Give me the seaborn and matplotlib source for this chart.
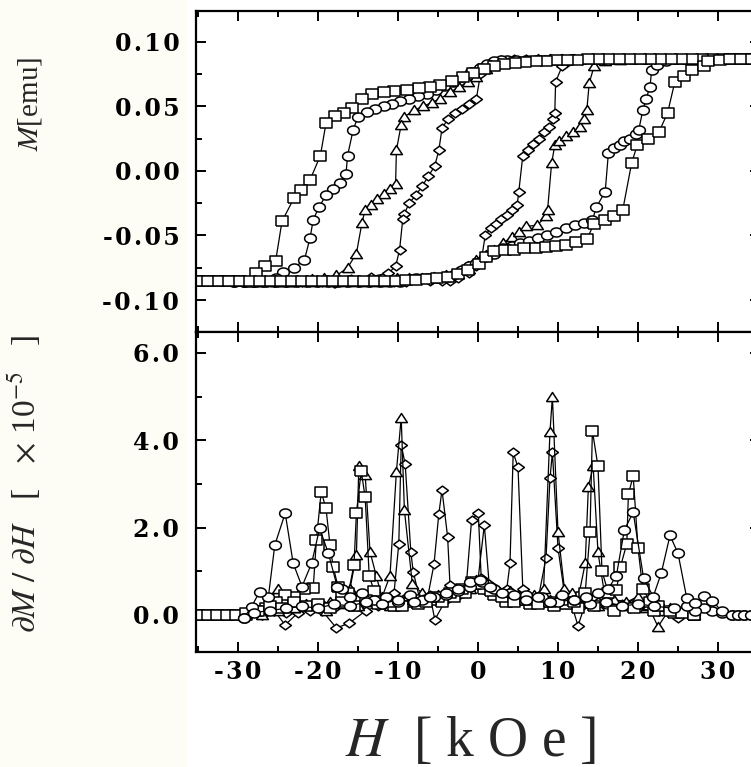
import numpy as np
import matplotlib
matplotlib.use("Agg")
import matplotlib.pyplot as plt
from matplotlib.ticker import MultipleLocator, FuncFormatter
from matplotlib.patches import Rectangle
import seaborn as sns

# ---------------- top panel: M(H) loops (descending branch, then ascending) ----------------
sq_h = [34.5, 33.2, 31.9, 30.6, 29.3, 28.0, 26.7, 25.4, 24.1, 22.8, 21.5, 20.2, 18.9, 17.6,
        16.3, 15.0, 13.7, 12.4, 11.1, 9.8, 8.5, 7.2, 5.9, 4.6, 3.3, 2.0, 0.7, -0.6, -1.9, -3.2,
        -4.7, -6.0, -7.4, -8.9, -10.5, -11.8, -13.2, -14.5, -15.7, -16.8, -17.9, -19.0, -19.7,
        -21.0, -22.1, -23.0, -24.5, -25.3, -26.6, -27.7, -28.6, -29.9, -31.2, -32.5, -33.8, -35.0,
        -35.0, -33.7, -32.4, -31.1, -29.8, -28.5, -27.2, -25.9, -24.6, -23.3, -22.0, -20.7, -19.4,
        -18.1, -16.8, -15.5, -14.2, -12.9, -11.6, -10.3, -9.0, -7.7, -6.4, -5.1, -3.8, -2.5, -1.2,
        0.1, 1.0, 2.0, 3.4, 4.5, 5.8, 7.2, 8.5, 9.8, 11.0, 12.3, 13.6, 14.5, 15.9, 17.0, 18.1,
        19.2, 19.9, 21.2, 22.6, 23.7, 24.6, 25.7, 26.8, 28.2, 28.8, 30.2, 31.5, 32.9, 34.2]
sq_m = [0.087, 0.087, 0.087, 0.087, 0.087, 0.087, 0.087, 0.087, 0.087, 0.087, 0.087, 0.087, 0.087, 0.087,
        0.087, 0.0868, 0.0866, 0.0864, 0.086, 0.0857, 0.0853, 0.085, 0.0845, 0.084, 0.083, 0.081, 0.079,
        0.076, 0.073, 0.070, 0.067, 0.065, 0.064, 0.063, 0.062, 0.061, 0.060, 0.056, 0.049, 0.045,
        0.043, 0.037, 0.012, -0.007, -0.015, -0.021, -0.039, -0.070, -0.074, -0.079, -0.086, -0.0855,
        -0.085, -0.085, -0.085, -0.085,
        -0.085, -0.085, -0.085, -0.085, -0.085, -0.085, -0.085, -0.085, -0.085, -0.085, -0.085, -0.085,
        -0.085, -0.085, -0.085, -0.085, -0.085, -0.085, -0.085, -0.085, -0.0848, -0.0845, -0.084,
        -0.083, -0.082, -0.080, -0.077, -0.072, -0.067, -0.062, -0.061, -0.061, -0.060, -0.0595,
        -0.059, -0.058, -0.057, -0.055, -0.053, -0.041, -0.038, -0.035, -0.030, 0.006, 0.020, 0.025,
        0.030, 0.045, 0.069, 0.074, 0.078, 0.081, 0.085, 0.086, 0.0868, 0.087, 0.087]

ci_h = [30.0, 28.7, 27.4, 26.1, 24.8, 23.5, 22.2, 20.9, 19.6, 18.3, 17.0, 15.7, 14.4, 13.1, 11.8,
        10.5, 9.6, 8.4, 7.2, 6.0, 4.7, 3.6, 2.9, 2.0, 1.1, 0.2, -0.9, -2.0, -3.1, -4.2, -5.3, -6.4,
        -7.5, -8.6, -9.7, -10.8, -11.8, -12.9, -13.9, -15.0, -15.6, -16.3, -16.5, -17.2, -18.1,
        -19.0, -19.9, -20.6, -21.0, -21.7, -23.0, -24.4, -25.3, -26.6, -28.0, -29.3, -30.5,
        -30.5, -29.2, -27.9, -26.6, -25.3, -24.0, -22.7, -21.4, -20.1, -18.8, -17.5, -16.2, -14.9,
        -13.6, -12.3, -11.0, -9.7, -7.8, -6.4, -5.1, -3.8, -2.9, -2.0, -1.1, -0.2, 0.9, 2.0, 3.1,
        4.2, 5.3, 6.4, 7.5, 8.6, 9.7, 11.0, 12.1, 13.2, 14.3, 14.8, 15.9, 16.3, 17.0, 17.7, 18.3,
        19.0, 19.7, 20.1, 20.6, 21.0, 21.5, 21.7, 22.4, 23.5, 24.6, 25.9, 27.2, 28.5, 29.8]
ci_m = [0.087, 0.087, 0.087, 0.087, 0.087, 0.087, 0.087, 0.087, 0.087, 0.087, 0.087, 0.087, 0.087,
        0.087, 0.087, 0.086, 0.086, 0.086, 0.086, 0.086, 0.086, 0.086, 0.086, 0.085, 0.083, 0.080,
        0.077, 0.073, 0.069, 0.066, 0.063, 0.060, 0.058, 0.056, 0.054, 0.052, 0.050, 0.048, 0.046,
        0.042, 0.032, 0.012, -0.002, -0.009, -0.014, -0.019, -0.028, -0.038, -0.052, -0.069, -0.075,
        -0.078, -0.083, -0.085, -0.086, -0.086, -0.086,
        -0.086, -0.086, -0.086, -0.086, -0.086, -0.086, -0.086, -0.086, -0.086, -0.086, -0.086,
        -0.086, -0.086, -0.086, -0.086, -0.086, -0.086, -0.083, -0.083, -0.083, -0.082, -0.080,
        -0.077, -0.074, -0.071, -0.067, -0.064, -0.060, -0.058, -0.056, -0.054, -0.052, -0.050,
        -0.047, -0.044, -0.042, -0.040, -0.038, -0.028, -0.016, 0.014, 0.018, 0.020, 0.023, 0.025,
        0.029, 0.032, 0.047, 0.056, 0.065, 0.078, 0.082, 0.085, 0.087, 0.087, 0.087, 0.087, 0.087]

tr_h = [27.0, 25.5, 24.0, 22.5, 21.0, 19.5, 18.0, 16.5, 15.0, 13.5, 12.0, 10.5, 9.0, 7.5, 6.0, 4.5,
        3.0, 2.0, 1.0, -0.2, -1.3, -2.4, -3.5, -4.7, -5.8, -6.9, -8.0, -9.2, -9.6, -10.2, -10.3,
        -11.0, -11.8, -12.6, -13.4, -14.1, -14.5, -15.2, -16.3, -17.7, -19.2, -20.7, -22.2, -23.7,
        -25.2, -27.0,
        -27.0, -25.5, -24.0, -22.5, -21.0, -19.5, -18.0, -16.5, -15.0, -13.5, -12.0, -10.1, -8.6,
        -7.0, -5.5, -4.0, -2.6, -1.3, -0.2, 1.0, 2.0, 3.1, 4.25, 5.1, 6.0, 7.4, 8.5, 8.7, 9.2, 9.6,
        10.1, 11.0, 11.9, 12.7, 13.2, 13.6, 13.9, 14.5, 15.9, 17.7, 19.5, 21.0, 22.5, 24.0, 25.5, 27.0]
tr_m = [0.087, 0.087, 0.0865, 0.087, 0.0865, 0.087, 0.0865, 0.087, 0.087, 0.0865, 0.087, 0.087, 0.087,
        0.0865, 0.086, 0.0855, 0.085, 0.083, 0.079, 0.073, 0.069, 0.065, 0.061, 0.056, 0.053, 0.050,
        0.047, 0.042, 0.036, 0.016, -0.010, -0.014, -0.018, -0.022, -0.026, -0.030, -0.040, -0.064,
        -0.075, -0.081, -0.083, -0.084, -0.085, -0.086, -0.086, -0.086,
        -0.086, -0.086, -0.086, -0.086, -0.086, -0.086, -0.086, -0.086, -0.086, -0.086, -0.086,
        -0.083, -0.083, -0.083, -0.082, -0.081, -0.078, -0.074, -0.069, -0.065, -0.061, -0.056,
        -0.051, -0.047, -0.043, -0.042, -0.035, -0.030, 0.006, 0.020, 0.023, 0.027, 0.030, 0.034,
        0.040, 0.047, 0.068, 0.081, 0.085, 0.086, 0.087, 0.087, 0.087, 0.087, 0.087, 0.087]

di_h = [27.0, 25.5, 24.0, 22.5, 21.0, 19.5, 18.0, 16.5, 15.0, 13.5, 12.0, 10.5, 9.0, 7.5, 6.0, 4.5,
        2.9, 2.0, 1.1, 0.3, -0.2, -1.1, -2.0, -2.9, -3.8, -4.5, -4.9, -5.4, -6.2, -7.0, -7.8, -8.6,
        -9.2, -9.4, -9.8, -10.3, -11.2, -13.4, -15.9, -17.9, -20.0, -22.0, -24.0, -25.5, -27.0,
        -27.0, -25.5, -24.0, -22.5, -21.0, -19.5, -18.0, -16.5, -15.0, -13.5, -12.0, -10.5, -9.0,
        -7.5, -6.0, -4.5, -3.5, -2.5, -1.1, -0.2, 0.45, 0.9, 1.6, 2.2, 2.9, 3.6, 4.25, 4.9, 5.1,
        5.6, 6.3, 6.9, 7.6, 8.3, 8.9, 9.4, 9.6, 9.7, 10.5, 11.4, 13.0, 15.0, 17.0, 19.0, 21.0,
        23.0, 25.0, 27.0]
di_m = [0.087, 0.0865, 0.087, 0.087, 0.0865, 0.087, 0.087, 0.0865, 0.087, 0.087, 0.087, 0.0865,
        0.087, 0.087, 0.0865, 0.0865, 0.086, 0.084, 0.080, 0.075, 0.056, 0.052, 0.048, 0.045, 0.040,
        0.033, 0.016, 0.004, -0.004, -0.012, -0.019, -0.025, -0.033, -0.037, -0.061, -0.074, -0.079,
        -0.082, -0.084, -0.087, -0.086, -0.086, -0.086, -0.086, -0.086,
        -0.086, -0.086, -0.086, -0.086, -0.086, -0.086, -0.087, -0.086, -0.086, -0.086, -0.085,
        -0.086, -0.086, -0.084, -0.085, -0.085, -0.085, -0.083, -0.079, -0.074, -0.068, -0.050,
        -0.044, -0.041, -0.037, -0.034, -0.030, -0.026, -0.016, 0.012, 0.016, 0.021, 0.025, 0.030,
        0.034, 0.040, 0.045, 0.069, 0.081, 0.085, 0.086, 0.0865, 0.087, 0.087, 0.087, 0.087, 0.087,
        0.087]

# ---------------- bottom panel: dM/dH (x 1e-5) ----------------
sq_hd = [27.0, 24.5, 22.0, 19.5, 17.0, 14.5, 12.5, 11.0, 9.5, 8.0, 6.5, 5.0, 3.5, 2.0, 0.8, -0.4,
         -1.6, -3.0, -4.5, -6.0, -7.5, -9.0, -10.5, -12.0, -13.0, -13.6, -14.1, -14.6, -15.2, -15.5,
         -16.2, -17.0, -17.5, -18.1, -18.5, -19.0, -19.6, -20.2, -20.6, -21.8, -23.0, -24.1, -25.3,
         -26.5, -27.7, -29.0, -30.2, -31.4, -32.6, -33.8, -35.0,
         -35.0, -33.8, -32.6, -31.4, -30.2, -29.0, -27.5, -26.0, -24.5, -23.0, -21.5, -20.0, -18.5,
         -17.0, -15.5, -14.0, -12.5, -11.0, -9.5, -8.0, -6.5, -5.0, -3.5, -2.0, -0.8, 0.4, 1.6, 3.0,
         4.5, 6.0, 7.5, 9.0, 10.5, 12.0, 13.0, 13.4, 14.0, 14.3, 15.0, 15.5, 16.3, 17.3, 17.8, 18.6,
         18.8, 19.4, 20.0, 20.6, 21.5, 22.5, 24.0, 25.5, 27.0]
sq_d = [0.0, 0.05, 0.1, 0.15, 0.1, 0.2, 0.15, 0.25, 0.2, 0.3, 0.25, 0.35, 0.3, 0.45, 0.6, 0.7, 0.5,
        0.4, 0.3, 0.35, 0.25, 0.3, 0.2, 0.35, 0.55, 0.9, 2.69, 3.3, 2.33, 1.15, 0.5, 0.4, 0.65, 1.1,
        1.6, 2.44, 2.82, 1.72, 0.61, 0.6, 0.4, 0.46, 0.3, 0.15, 0.1, 0.0, 0.0, 0.0, 0.0, 0.0, 0.0,
        0.0, 0.0, 0.0, 0.0, 0.0, 0.05, 0.1, 0.2, 0.15, 0.3, 0.2, 0.25, 0.15, 0.3, 0.2, 0.35, 0.25,
        0.3, 0.2, 0.35, 0.3, 0.4, 0.5, 0.6, 0.75, 0.7, 0.55, 0.4, 0.3, 0.35, 0.25, 0.3, 0.35, 0.3,
        0.4, 0.5, 1.89, 4.22, 3.4, 1.0, 0.5, 0.57, 1.1, 1.63, 2.77, 3.18, 1.53, 0.6, 0.3, 0.2, 0.1,
        0.05, 0.0]

ci_hd = [34.1, 33.3, 32.5, 31.7, 30.5, 29.3, 28.2, 27.1, 26.1, 24.5, 22.0, 20.0, 18.0, 16.0, 14.0,
         12.0, 10.0, 8.0, 6.0, 4.0, 2.0, 0.5, -1.0, -2.5, -4.0, -5.5, -7.0, -8.5, -10.0, -11.5,
         -13.0, -14.5, -16.0, -17.0, -17.6, -18.7, -19.8, -20.8, -22.0, -23.1, -24.1, -25.4, -26.2,
         -27.3, -28.3, -29.3,
         -29.3, -28.0, -26.0, -24.0, -22.0, -20.0, -18.0, -16.0, -14.0, -12.0, -10.0, -8.0, -6.0,
         -4.0, -2.5, -1.0, 0.3, 1.5, 3.0, 4.5, 6.0, 7.5, 9.0, 10.5, 12.0, 13.5, 15.0, 16.3, 17.3,
         18.3, 19.4, 20.7, 21.9, 22.9, 24.0, 25.0, 26.1, 27.1, 28.2, 29.3, 30.5, 31.7, 32.5, 33.3, 34.1]
ci_d = [0.0, 0.0, 0.0, 0.0, 0.05, 0.1, 0.15, 0.1, 0.2, 0.15, 0.2, 0.25, 0.2, 0.3, 0.25, 0.35, 0.3,
        0.4, 0.45, 0.5, 0.6, 0.75, 0.65, 0.55, 0.45, 0.4, 0.35, 0.45, 0.3, 0.4, 0.35, 0.5, 0.4, 0.6,
        0.65, 1.41, 1.98, 1.18, 0.65, 1.18, 2.33, 1.6, 0.42, 0.53, 0.19, -0.08,
        -0.08, 0.05, 0.1, 0.15, 0.2, 0.15, 0.25, 0.2, 0.3, 0.25, 0.35, 0.3, 0.4, 0.5, 0.6, 0.75, 0.8,
        0.65, 0.5, 0.45, 0.35, 0.4, 0.3, 0.45, 0.35, 0.4, 0.5, 0.6, 0.9, 1.95, 2.35, 0.84, 0.42,
        0.95, 1.82, 1.41, 0.38, 0.27, 0.44, 0.32, 0.08, 0.0, 0.0, 0.0, 0.0]

tr_hd = [27.0, 25.0, 23.0, 21.0, 19.0, 17.0, 15.0, 13.0, 11.0, 9.0, 7.0, 5.0, 3.0, 1.5, 0.3, -1.0,
         -2.5, -4.0, -5.5, -7.0, -8.2, -9.2, -9.6, -10.2, -11.0, -12.0, -12.7, -13.5, -14.1, -14.9,
         -15.2, -16.0, -17.0, -18.5, -20.0, -21.5, -23.0, -25.0, -27.0,
         -27.0, -25.0, -23.0, -21.0, -19.0, -17.0, -15.0, -13.0, -11.0, -9.0, -7.0, -5.0, -3.0,
         -1.5, -0.2, 1.2, 2.5, 4.0, 5.5, 7.0, 8.2, 9.0, 9.3, 10.0, 10.8, 11.8, 12.6, 13.4, 13.8,
         14.4, 15.0, 15.8, 17.0, 18.5, 20.0, 21.3, 22.5, 24.0, 25.5, 27.0]
tr_d = [0.0, 0.05, 0.1, 0.15, 0.2, 0.25, 0.2, 0.3, 0.25, 0.35, 0.3, 0.4, 0.5, 0.6, 0.75, 0.6, 0.5,
        0.45, 0.4, 0.5, 0.7, 2.4, 4.52, 3.28, 0.9, 0.4, 0.88, 1.45, 3.2, 3.4, 1.37, 0.6, 0.35, 0.3,
        0.2, 0.25, 0.15, 0.6, 0.1,
        0.0, 0.1, 0.15, 0.2, 0.1, 0.25, 0.2, 0.3, 0.2, 0.3, 0.35, 0.45, 0.5, 0.65, 0.8, 0.6, 0.5,
        0.55, 0.4, 0.45, 0.6, 4.2, 5.0, 1.9, 0.6, 0.5, 0.45, 1.18, 2.94, 3.4, 1.43, 0.5, 0.35, 0.3,
        0.4, 0.2, -0.27, 0.15, 0.1, 0.0]

di_hd = [27.0, 25.0, 23.0, 21.0, 19.0, 17.0, 15.0, 13.0, 11.0, 9.5, 8.0, 6.5, 5.0, 3.5, 2.2, 1.2,
         0.4, 0.04, -0.8, -1.5, -2.4, -3.5, -3.8, -4.5, -4.9, -5.5, -6.3, -7.2, -8.1, -8.4, -9.1,
         -9.6, -9.9, -10.5, -11.5, -12.5, -14.0, -16.1, -17.7, -19.5, -21.0, -22.5, -24.1, -25.5, -27.0,
         -27.0, -25.5, -24.0, -22.5, -21.0, -19.5, -18.0, -16.5, -15.0, -13.5, -12.0, -10.5, -9.0,
         -7.5, -6.0, -5.4, -4.0, -2.5, -1.2, 0.0, 0.79, 1.4, 2.2, 3.0, 3.6, 4.0, 4.4, 5.0, 5.6, 6.5,
         7.5, 8.5, 9.0, 9.3, 10.0, 10.8, 11.6, 12.5, 13.5, 15.0, 16.5, 18.0, 19.5, 21.0, 22.5, 24.0,
         25.0, 26.0, 27.0]
di_d = [0.0, 0.05, 0.1, 0.2, 0.15, 0.25, 0.3, 0.2, 0.35, 0.3, 0.4, 0.35, 0.45, 0.5, 0.6, 0.7, 0.85,
        2.33, 2.18, 0.6, 0.45, 0.69, 1.79, 2.86, 2.31, 1.16, 0.4, 0.3, 0.99, 1.45, 3.45, 3.9, 1.63,
        0.5, 0.3, 0.2, 0.1, -0.19, -0.3, 0.1, 0.2, 0.05, -0.23, 0.1, 0.0,
        0.0, 0.1, 0.05, 0.2, 0.1, 0.25, 0.15, 0.3, 0.2, 0.35, 0.25, 0.3, 0.4, 0.3, 0.45, -0.11, 0.35,
        0.5, 0.6, 0.8, 2.06, 0.7, 0.5, 0.45, 0.6, 1.18, 3.72, 3.38, 0.6, 0.4, 0.35, 1.3, 3.13, 3.72,
        1.53, 0.5, 0.3, -0.25, 0.3, 0.2, 0.35, 0.25, 0.3, 0.2, 0.25, 0.1, -0.08, 0.1, 0.0]

for a, b in [(sq_h, sq_m), (ci_h, ci_m), (tr_h, tr_m), (di_h, di_m),
             (sq_hd, sq_d), (ci_hd, ci_d), (tr_hd, tr_d), (di_hd, di_d)]:
    assert len(a) == len(b), (len(a), len(b))

# the scan is stretched sideways, so the open markers are a bit wider than tall
t = np.linspace(0, 2 * np.pi, 25)
m_circle = list(zip(1.3 * np.cos(t), np.sin(t)))
m_square = [(-1.2, -1), (1.2, -1), (1.2, 1), (-1.2, 1), (-1.2, -1)]
m_tri = [(-1.3, -0.9), (1.3, -0.9), (0, 1.1), (-1.3, -0.9)]
m_diam = [(-1.35, 0), (0, 1), (1.35, 0), (0, -1), (-1.35, 0)]

sns.set_style("ticks")
plt.rcParams['font.family'] = ['Liberation Serif', 'DejaVu Serif']
plt.rcParams['mathtext.fontset'] = 'stix'
plt.rcParams['axes.unicode_minus'] = False

fig = plt.figure(figsize=(7.51, 7.67), dpi=100)
fig.patches.append(Rectangle((0, 0), 186 / 751, 1, transform=fig.transFigure,
                             color='#fefdf5', zorder=-5))

x0, x1 = 196 / 751, 760 / 751
ax1 = fig.add_axes([x0, 1 - 332 / 767, x1 - x0, 321 / 767])
ax2 = fig.add_axes([x0, 1 - 652 / 767, x1 - x0, 320 / 767])


def draw(ax, h, v, mk, ms):
    sns.lineplot(x=h, y=v, ax=ax, sort=False, estimator=None, color='black', lw=0.9,
                 marker=mk, markersize=ms, markerfacecolor='white',
                 markeredgecolor='black', markeredgewidth=1.1)


def spaced(fmt):
    # the scanned tick numbers are set wide, so pad the characters with hair spaces
    def f(v, pos):
        if abs(v) < 1e-9:
            v = 0.0
        return '\u200a'.join(fmt % v)
    return FuncFormatter(f)


draw(ax1, di_h, di_m, m_diam, 8.5)
draw(ax1, tr_h, tr_m, m_tri, 8.5)
draw(ax1, ci_h, ci_m, m_circle, 8.5)
draw(ax1, sq_h, sq_m, m_square, 8)

draw(ax2, di_hd, di_d, m_diam, 8.5)
draw(ax2, tr_hd, tr_d, m_tri, 8.5)
draw(ax2, sq_hd, sq_d, m_square, 8)
draw(ax2, ci_hd, ci_d, m_circle, 8.5)

ax1.set_ylim(-0.1248, 0.124)
ax2.set_ylim(-0.85, 6.48)
for ax in (ax1, ax2):
    ax.set_xlim(-35.25, 35.25)
    ax.xaxis.set_major_locator(MultipleLocator(10))
    ax.xaxis.set_minor_locator(MultipleLocator(5))
    ax.tick_params(which='both', direction='in', top=True, right=True, width=1.4,
                   labelsize=17, colors='black')
    ax.tick_params(which='major', length=7)
    ax.tick_params(which='minor', length=4)
    for sp in ax.spines.values():
        sp.set_linewidth(1.6)
        sp.set_color('black')
    ax.set_xlabel('')
    ax.set_ylabel('')

ax1.yaxis.set_major_locator(MultipleLocator(0.05))
ax1.yaxis.set_minor_locator(MultipleLocator(0.025))
ax1.yaxis.set_major_formatter(spaced('%.2f'))
ax1.tick_params(labelbottom=False, pad=12)
ax2.yaxis.set_major_locator(MultipleLocator(2))
ax2.yaxis.set_minor_locator(MultipleLocator(1))
ax2.yaxis.set_major_formatter(spaced('%.1f'))
ax2.xaxis.set_major_formatter(spaced('%d'))
ax2.tick_params(axis='y', pad=12)
ax2.tick_params(axis='x', pad=6)

for lab in ax1.get_yticklabels() + ax2.get_yticklabels() + ax2.get_xticklabels():
    lab.set_fontfamily('DejaVu Serif')
    lab.set_fontweight('bold')

ax1.set_ylabel(r'$M$[emu]', fontsize=21)
ax1.yaxis.set_label_coords(-0.27, 0.71)
ax2.set_ylabel(r'$\partial M\ /\ \partial H$   [   $\times$ 10$^{-5}$   ]', fontsize=24)
ax2.yaxis.set_label_coords(-0.27, 0.525)
ax2.set_xlabel(r'$H$  [ k O e ]', fontsize=40)
ax2.xaxis.set_label_coords(0.486, -0.28)
ax2.xaxis.label.set_va('center')

fig.savefig('out.png', dpi=100)
